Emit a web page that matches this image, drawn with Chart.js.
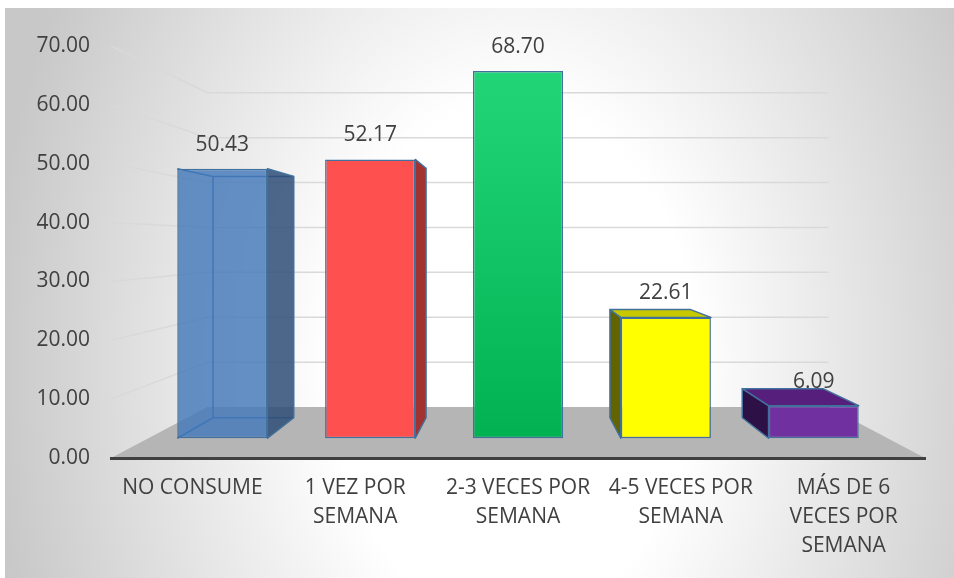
<!DOCTYPE html>
<html>
<head>
<meta charset="utf-8">
<script src="https://cdn.jsdelivr.net/npm/chart.js@4.4.1/dist/chart.umd.min.js"></script>
<style>
  html, body { margin: 0; padding: 0; background: #fff; }
  #wrap { position: relative; width: 954px; height: 578px; }
</style>
</head>
<body>
<div id="wrap"><canvas id="chart"></canvas></div>
<script>
// --- data ---
const categories = [
    ['NO CONSUME'],
    ['1 VEZ POR', 'SEMANA'],
    ['2-3 VECES POR', 'SEMANA'],
    ['4-5 VECES POR', 'SEMANA'],
    ['MÁS DE 6', 'VECES POR', 'SEMANA']
];
const values = [50.43, 52.17, 68.70, 22.61, 6.09];
const yTicks = [0, 10, 20, 30, 40, 50, 60, 70];

// --- styles ---
const FONT = { family: '"Open Sans", "Noto Sans", sans-serif', size: 21 };
const TEXT = '#404040';
const frontColors = ['rgba(67,121,187,0.82)', '#ff5050', '#10c060', '#ffff00', '#7030a0'];
const sideColors = ['rgba(47,78,120,0.85)', '#a03232', '#0a7a40', '#636300', '#2d1045'];
const topColors = ['#5a84c0', '#d04040', '#18c868', '#c8c800', '#561f7c'];
const seeThrough = [true, false, false, false, false];
const EDGE = '#41719c';

// perspective (fractions toward the vanishing point)
const K_BAR = 0.092;    // front plane of the bars
const K_DEPTH = 0.105;  // depth of one bar
const K_WALL = 0.237;   // back wall
const VP_VALUE = 36.5;  // height of vanishing point, in axis units
const Y_MAX = yTicks[yTicks.length - 1];

const n = values.length;
const xbMin = -0.5 - K_BAR * n / (2 * (1 - K_BAR));
const xbMax = xbMin + n / (1 - K_BAR);
const ybMin = -K_BAR * VP_VALUE / (1 - K_BAR);
const ybMax = ybMin + Y_MAX / (1 - K_BAR);

function vanishing(chart) {
    const a = chart.chartArea;
    return { x: (a.left + a.right) / 2, y: chart.scales.y.getPixelForValue(VP_VALUE) };
}

function toward(x, y, k, vp) {
    return { x: x + k * (vp.x - x), y: y + k * (vp.y - y) };
}

function poly(ctx, pts, fill, stroke) {
    ctx.beginPath();
    ctx.moveTo(pts[0].x, pts[0].y);
    for (let i = 1; i < pts.length; i++) ctx.lineTo(pts[i].x, pts[i].y);
    ctx.closePath();
    if (fill) { ctx.fillStyle = fill; ctx.fill(); }
    if (stroke) { ctx.strokeStyle = stroke; ctx.stroke(); }
}

function greenFill(chart) {
    const a = chart.chartArea;
    if (!a) return frontColors[2];
    const g = chart.ctx.createLinearGradient(0, a.top, 0, a.bottom);
    g.addColorStop(0, '#24d87a');
    g.addColorStop(1, '#00b050');
    return g;
}

const scene3d = {
    id: 'scene3d',
    beforeDraw(chart) {
        const ctx = chart.ctx;
        const a = chart.chartArea;
        const y = chart.scales.y;
        const vp = vanishing(chart);
        ctx.save();

        // background
        ctx.fillStyle = '#ffffff';
        ctx.fillRect(0, 0, chart.width, chart.height);
        const cx = 512, cy = 361, rx = 522, ry = 741;
        ctx.save();
        ctx.beginPath();
        ctx.rect(5, 8, chart.width - 5, chart.height - 8);
        ctx.clip();
        ctx.translate(cx, cy);
        ctx.scale(1, ry / rx);
        const rg = ctx.createRadialGradient(0, 0, 0, 0, 0, rx);
        rg.addColorStop(0, '#ffffff');
        rg.addColorStop(0.35, '#ffffff');
        rg.addColorStop(1, '#c8c8c8');
        ctx.fillStyle = rg;
        ctx.fillRect(-cx, -cy * rx / ry - 10, chart.width + 20, chart.height * rx / ry + 40);
        ctx.restore();

        // wall grid lines
        ctx.lineWidth = 1.5;
        ctx.strokeStyle = '#d9d9d9';
        yTicks.forEach(v => {
            if (v === 0) return;
            const py = y.getPixelForValue(v);
            const bl = toward(a.left, py, K_WALL, vp);
            const br = toward(a.right, py, K_WALL, vp);
            ctx.beginPath();
            ctx.moveTo(a.left, py);
            ctx.lineTo(bl.x, bl.y);
            ctx.lineTo(br.x, br.y);
            ctx.stroke();
        });

        // floor
        const y0 = y.getPixelForValue(0);
        poly(ctx, [
            { x: a.left, y: y0 },
            { x: a.right, y: y0 },
            toward(a.right, y0, K_WALL, vp),
            toward(a.left, y0, K_WALL, vp)
        ], '#b5b5b5', null);
        ctx.restore();
    },
    beforeDatasetsDraw(chart) {
        const ctx = chart.ctx;
        const vp = vanishing(chart);
        const meta = chart.getDatasetMeta(0);
        ctx.save();
        ctx.lineWidth = 1.5;
        ctx.lineJoin = 'round';
        meta.data.forEach((bar, i) => {
            const p = bar.getProps(['x', 'y', 'base', 'width'], true);
            const l = p.x - p.width / 2, r = p.x + p.width / 2, t = p.y, b = p.base;
            const lt = toward(l, t, K_DEPTH, vp), rt = toward(r, t, K_DEPTH, vp);
            const lb = toward(l, b, K_DEPTH, vp), rb = toward(r, b, K_DEPTH, vp);

            if (seeThrough[i]) {
                ctx.strokeStyle = '#3a6aa8';
                ctx.beginPath();
                ctx.moveTo(l, t); ctx.lineTo(lt.x, lt.y);
                ctx.lineTo(lb.x, lb.y); ctx.lineTo(l, b);
                ctx.moveTo(lb.x, lb.y); ctx.lineTo(rb.x, rb.y);
                ctx.moveTo(lt.x, lt.y); ctx.lineTo(rt.x, rt.y);
                ctx.stroke();
            }
            if (rt.x > r) {
                poly(ctx, [{ x: r, y: t }, rt, rb, { x: r, y: b }], sideColors[i], EDGE);
            }
            if (lt.x < l) {
                poly(ctx, [{ x: l, y: t }, lt, lb, { x: l, y: b }], sideColors[i], EDGE);
            }
            if (lt.y < t) {
                poly(ctx, [{ x: l, y: t }, { x: r, y: t }, rt, lt], topColors[i], EDGE);
            }
        });
        ctx.restore();
    },
    afterDatasetsDraw(chart) {
        const ctx = chart.ctx;
        const meta = chart.getDatasetMeta(0);
        ctx.save();
        ctx.font = FONT.size + 'px ' + FONT.family;
        ctx.fillStyle = TEXT;
        ctx.textAlign = 'center';
        ctx.textBaseline = 'middle';
        meta.data.forEach((bar, i) => {
            ctx.fillText(values[i].toFixed(2), bar.x, bar.y - 24);
        });
        ctx.restore();
    }
};

new Chart(document.getElementById('chart'), {
    type: 'bar',
    data: {
        labels: categories,
        datasets: [{
            data: values.map((v, i) => ({ x: i, y: v })),
            xAxisID: 'xb',
            yAxisID: 'yb',
            backgroundColor: (c) => c.dataIndex === 2 ? greenFill(c.chart) : frontColors[c.dataIndex],
            borderColor: EDGE,
            borderWidth: 1.5,
            borderSkipped: false,
            categoryPercentage: 1,
            barPercentage: 0.61
        }]
    },
    options: {
        responsive: true,
        maintainAspectRatio: false,
        devicePixelRatio: 1,
        animation: false,
        layout: { padding: { left: 0, right: 29, top: 46, bottom: 0 } },
        plugins: {
            legend: { display: false },
            tooltip: { enabled: false }
        },
        scales: {
            x: {
                type: 'category',
                offset: true,
                grid: { display: false, drawTicks: false },
                border: { display: true, color: '#404040', width: 3 },
                ticks: {
                    color: TEXT,
                    font: { family: FONT.family, size: FONT.size, lineHeight: 1.4 },
                    padding: 15,
                    maxRotation: 0,
                    autoSkip: false
                },
                afterFit: (s) => { s.height = 120; }
            },
            y: {
                type: 'linear',
                min: 0,
                max: Y_MAX,
                grid: { display: false, drawTicks: false },
                border: { display: false },
                ticks: {
                    stepSize: 10,
                    color: TEXT,
                    font: FONT,
                    padding: 21,
                    callback: (v) => v.toFixed(2)
                },
                afterFit: (s) => { s.width = 111; }
            },
            xb: {
                type: 'linear',
                display: false,
                offset: false,
                min: xbMin,
                max: xbMax,
                grid: { offset: false },
                ticks: { stepSize: 1, includeBounds: false }
            },
            yb: {
                type: 'linear',
                display: false,
                min: ybMin,
                max: ybMax
            }
        }
    },
    plugins: [scene3d]
});
</script>
</body>
</html>
